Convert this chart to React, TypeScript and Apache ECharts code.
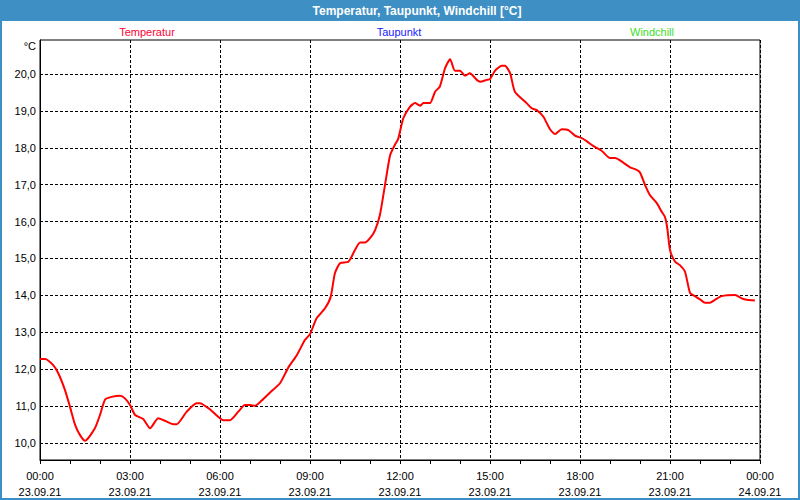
import React, { useEffect, useRef } from "react";
import * as echarts from "echarts";

const hours = [
  0.0, 0.17, 0.44, 0.61, 0.83, 1.0, 1.17, 1.33, 1.5, 1.83, 2.0, 2.17, 2.39, 2.67, 2.83, 3.0, 3.17, 3.44, 3.67, 3.94,
  4.17, 4.44, 4.56, 4.89, 5.22, 5.33, 5.67, 6.11, 6.33, 6.61, 6.83, 7.0, 7.17, 7.39, 7.67, 8.0, 8.28, 8.56, 8.83,
  9.0, 9.22, 9.5, 9.69, 9.83, 10.0, 10.28, 10.5, 10.67, 10.83, 11.0, 11.17, 11.33, 11.5, 11.67, 11.83, 11.94, 12.11,
  12.33, 12.5, 12.67, 12.78, 13.0, 13.17, 13.33, 13.5, 13.67, 13.83, 14.0, 14.17, 14.33, 14.56, 14.67, 14.89, 15.0,
  15.17, 15.39, 15.5, 15.67, 15.83, 16.22, 16.39, 16.56, 16.78, 17.0, 17.17, 17.39, 17.61, 17.83, 18.06, 18.22,
  18.44, 18.72, 19.0, 19.17, 19.44, 19.67, 19.89, 20.0, 20.17, 20.33, 20.56, 20.72, 20.83, 20.91, 21.0, 21.17,
  21.33, 21.5, 21.67, 21.83, 22.0, 22.17, 22.33, 22.5, 22.72, 23.17, 23.39, 23.56, 23.83,
];

const temperatur = [
  12.28, 12.28, 12.11, 11.89, 11.44, 10.98, 10.49, 10.22, 10.06, 10.4, 10.76, 11.18, 11.25, 11.28, 11.21, 11.03,
  10.76, 10.65, 10.4, 10.67, 10.6, 10.51, 10.51, 10.85, 11.08, 11.08, 10.91, 10.62, 10.62, 10.85, 11.03, 11.03,
  11.01, 11.15, 11.37, 11.62, 12.05, 12.38, 12.79, 12.95, 13.38, 13.65, 13.96, 14.6, 14.87, 14.91, 15.23, 15.43,
  15.43, 15.55, 15.77, 16.18, 16.99, 17.8, 18.08, 18.24, 18.8, 19.11, 19.21, 19.14, 19.21, 19.21, 19.52, 19.66,
  20.15, 20.4, 20.09, 20.09, 19.95, 20.02, 19.84, 19.79, 19.84, 19.86, 20.09, 20.22, 20.22, 20.02, 19.52, 19.21,
  19.07, 19.02, 18.84, 18.5, 18.37, 18.5, 18.48, 18.33, 18.26, 18.18, 18.05, 17.92, 17.72, 17.72, 17.6, 17.47,
  17.4, 17.33, 16.99, 16.72, 16.5, 16.27, 16.13, 15.82, 15.23, 14.91, 14.82, 14.64, 14.06, 13.98, 13.89, 13.8,
  13.8, 13.88, 13.98, 14.01, 13.92, 13.88, 13.86,
];

const yTicks = [10, 11, 12, 13, 14, 15, 16, 17, 18, 19, 20];
const xTickHours = [0, 3, 6, 9, 12, 15, 18, 21, 24];
const dateLabels = ["23.09.21", "24.09.21"];

const legendNames = ["Temperatur", "Taupunkt", "Windchill"];
const legendColors = ["#ff0033", "#1a1aff", "#3ddc2a"];

const title = "Temperatur, Taupunkt, Windchill [°C]";

export default function App() {
  const ref = useRef<HTMLDivElement>(null);

  useEffect(() => {
    if (!ref.current) return;
    const chart = echarts.init(ref.current, null, { renderer: "svg" });
    const font = "Liberation Sans, Arial, sans-serif";
    const blue = "#3d8fc4";

    const option: any = {
      animation: false,
      backgroundColor: "#ffffff",
      textStyle: { fontFamily: font },
      grid: {
        left: 40,
        right: 40,
        top: 40,
        bottom: 40,
        show: true,
        borderColor: "#000",
        borderWidth: 1,
        backgroundColor: "#fff",
      },
      graphic: [
        {
          type: "rect",
          silent: true,
          z: -10,
          shape: { x: 1, y: 1, width: 798, height: 498 },
          style: { fill: "none", stroke: blue, lineWidth: 2 },
        },
        {
          type: "rect",
          silent: true,
          z: -5,
          shape: { x: 0, y: 0, width: 800, height: 21 },
          style: { fill: blue },
        },
        {
          type: "text",
          x: 417,
          y: 11,
          style: {
            text: title,
            fill: "#ffffff",
            font: `bold 12px ${font}`,
            align: "center",
            verticalAlign: "middle",
          },
        },
        {
          type: "text",
          x: 36,
          y: 46,
          style: {
            text: "°C",
            fill: "#000",
            font: `11px ${font}`,
            align: "right",
            verticalAlign: "middle",
          },
        },
        ...legendNames.map((n, i) => ({
          type: "text",
          x: [147, 399, 652][i],
          y: 32,
          style: {
            text: n,
            fill: legendColors[i],
            font: `11px ${font}`,
            align: "center",
            verticalAlign: "middle",
          },
        })),
      ],
      xAxis: {
        type: "value",
        min: 0,
        max: 24,
        interval: 3,
        axisLine: { show: true, lineStyle: { color: "#000", width: 1 } },
        axisTick: { show: true, length: 4, lineStyle: { color: "#000" } },
        minorTick: { show: true, splitNumber: 3, length: 4, lineStyle: { color: "#000" } },
        splitLine: { show: true, lineStyle: { color: "#000", type: [3, 2], width: 1 } },
        axisLabel: {
          color: "#000",
          fontSize: 11,
          fontFamily: font,
          margin: 8,
          lineHeight: 16,
          customValues: xTickHours,
          formatter: (v: number) => {
            const h = Math.round(v) % 24;
            const d = v >= 24 ? dateLabels[1] : dateLabels[0];
            return `${String(h).padStart(2, "0")}:00\n${d}`;
          },
        },
      },
      yAxis: {
        type: "value",
        min: 9.54,
        max: 20.92,
        axisLine: { show: true, lineStyle: { color: "#000", width: 1 } },
        axisTick: { show: false, customValues: yTicks },
        splitLine: { show: true, lineStyle: { color: "#000", type: [3, 2], width: 1 } },
        axisLabel: {
          color: "#000",
          fontSize: 11,
          fontFamily: font,
          margin: 4,
          customValues: yTicks,
          formatter: (v: number) => v.toFixed(1).replace(".", ","),
        },
      },
      series: [
        {
          name: "Temperatur",
          type: "line",
          data: hours.map((h, i) => [h, temperatur[i]]),
          showSymbol: false,
          smooth: 0.2,
          lineStyle: { color: "#ff0000", width: 2 },
          itemStyle: { color: "#ff0000" },
        },
      ],
    };

    chart.setOption(option);
    return () => chart.dispose();
  }, []);

  return (
    <div
      ref={ref}
      style={{ position: "absolute", left: 0, top: 0, width: 800, height: 500 }}
    />
  );
}
